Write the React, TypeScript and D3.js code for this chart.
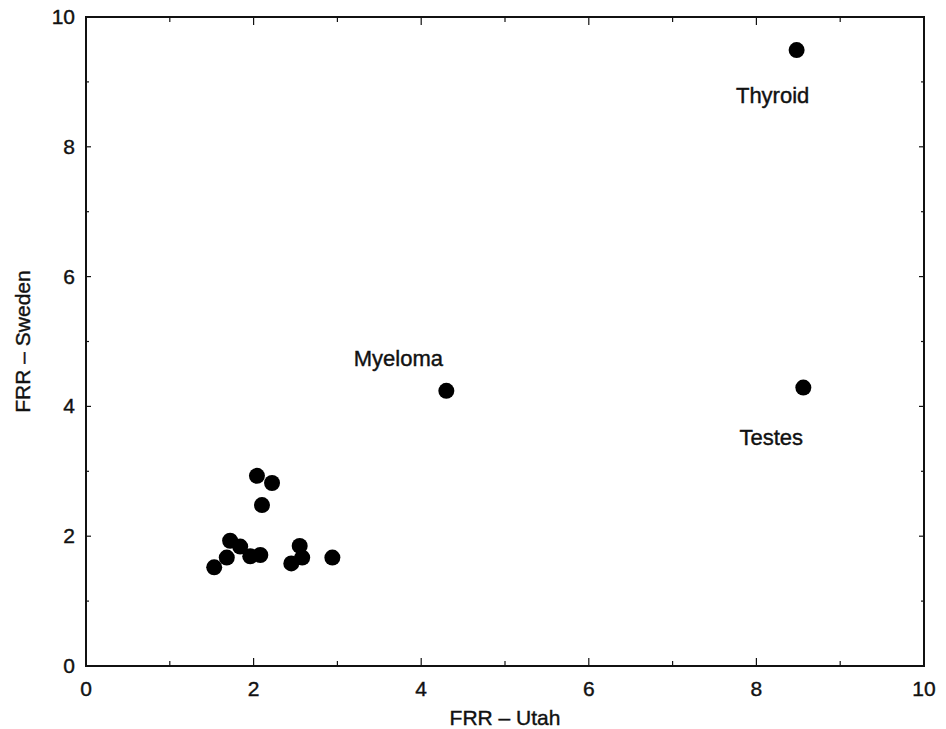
import React, { useEffect, useRef } from 'react';
import * as d3 from 'd3';

// FRR estimates per cancer site (Utah vs Sweden)
const utahValues = [2.04, 2.22, 2.1, 1.72, 1.84, 1.68, 1.53, 1.96, 2.08, 2.55, 2.58, 2.45, 2.94, 4.3, 8.48, 8.56];
const swedenValues = [2.93, 2.82, 2.48, 1.93, 1.84, 1.67, 1.52, 1.69, 1.71, 1.85, 1.67, 1.58, 1.67, 4.24, 9.49, 4.29];
const siteLabels = ['', '', '', '', '', '', '', '', '', '', '', '', '', 'Myeloma', 'Thyroid', 'Testes'];

const majorTicks = [0, 2, 4, 6, 8, 10];
const minorTicks = [1, 3, 5, 7, 9];

const App = () => {
  const svgRef = useRef<SVGSVGElement>(null);

  useEffect(() => {
    const svg = d3.select(svgRef.current);
    const width = 946;
    const height = 729;
    const font = '"Liberation Sans", Arial, sans-serif';

    svg.selectAll('*').remove();
    svg.attr('width', width).attr('height', height);

    const x = d3.scaleLinear().domain([0, 10]).range([86, 924]);
    const y = d3.scaleLinear().domain([0, 10]).range([666, 17]);

    const [x0, x1] = x.range();
    const [y0, y1] = y.range();

    // ticks on all four sides, pointing inward
    const g = svg.append('g').attr('stroke', '#111').attr('stroke-width', 1.2);
    const tickSets: [number[], number, number][] = [
      [majorTicks, 8, 5],
      [minorTicks, 5, 3],
    ];
    tickSets.forEach(([vals, lenX, lenY]) => {
      vals.forEach((v) => {
        g.append('line').attr('x1', x(v)).attr('x2', x(v)).attr('y1', y0).attr('y2', y0 - lenX);
        g.append('line').attr('x1', x(v)).attr('x2', x(v)).attr('y1', y1).attr('y2', y1 + lenX);
        g.append('line').attr('y1', y(v)).attr('y2', y(v)).attr('x1', x0).attr('x2', x0 + lenY);
        g.append('line').attr('y1', y(v)).attr('y2', y(v)).attr('x1', x1).attr('x2', x1 - lenY);
      });
    });

    // frame
    svg
      .append('rect')
      .attr('x', x0)
      .attr('y', y1)
      .attr('width', x1 - x0)
      .attr('height', y0 - y1)
      .attr('fill', 'none')
      .attr('stroke', '#111')
      .attr('stroke-width', 2);

    const styleText = (sel: any, size: number) =>
      sel
        .attr('font-family', font)
        .attr('font-size', size)
        .attr('fill', '#111')
        .attr('stroke', '#111')
        .attr('stroke-width', 0.4);

    // tick labels
    svg
      .append('g')
      .selectAll('text')
      .data(majorTicks)
      .join('text')
      .attr('x', (d) => x(d))
      .attr('y', y0 + 30)
      .attr('text-anchor', 'middle')
      .call(styleText, 21)
      .text((d) => d);

    svg
      .append('g')
      .selectAll('text')
      .data(majorTicks)
      .join('text')
      .attr('x', x0 - 11)
      .attr('y', (d) => y(d) + 7)
      .attr('text-anchor', 'end')
      .call(styleText, 21)
      .text((d) => d);

    // axis titles
    svg
      .append('text')
      .attr('x', (x0 + x1) / 2)
      .attr('y', 725)
      .attr('text-anchor', 'middle')
      .call(styleText, 21)
      .text('FRR \u2013 Utah');

    svg
      .append('text')
      .attr('transform', `translate(30, ${(y0 + y1) / 2}) rotate(-90)`)
      .attr('text-anchor', 'middle')
      .call(styleText, 21)
      .text('FRR \u2013 Sweden');

    // points
    svg
      .append('g')
      .selectAll('circle')
      .data(utahValues)
      .join('circle')
      .attr('cx', (d) => x(d))
      .attr('cy', (d, i) => y(swedenValues[i]))
      .attr('r', 8)
      .attr('fill', '#000');

    // point labels
    const labelOffset: Record<string, [number, number]> = {
      Myeloma: [-48, -25],
      Thyroid: [-24, 53],
      Testes: [-32, 57],
    };
    siteLabels.forEach((lab, i) => {
      if (!lab) return;
      const [dx, dy] = labelOffset[lab];
      svg
        .append('text')
        .attr('x', x(utahValues[i]) + dx)
        .attr('y', y(swedenValues[i]) + dy)
        .attr('text-anchor', 'middle')
        .call(styleText, 22)
        .text(lab);
    });
  }, []);

  return (
    <div style={{ position: 'absolute', left: 0, top: 0, background: '#fff' }}>
      <svg ref={svgRef} style={{ display: 'block' }} />
    </div>
  );
};

export default App;
